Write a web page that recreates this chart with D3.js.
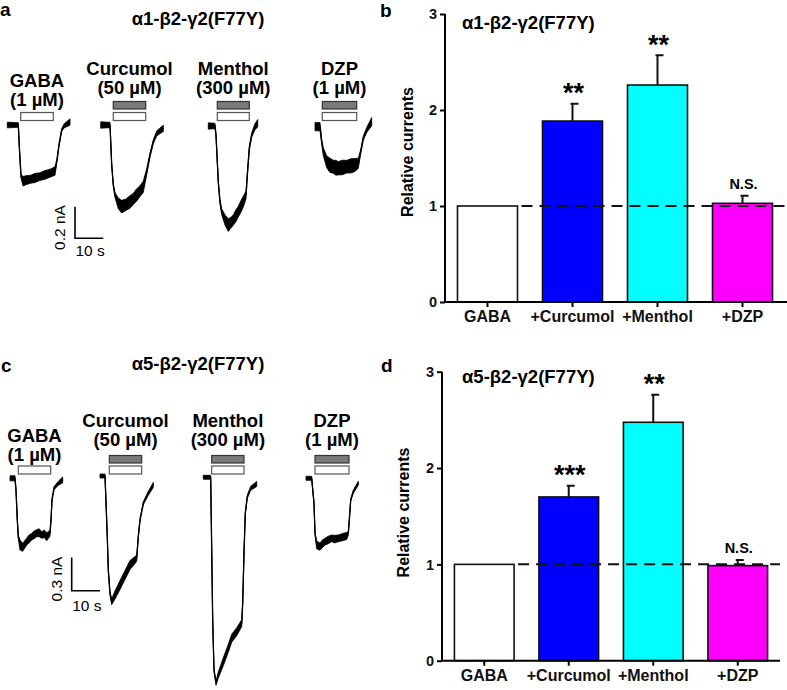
<!DOCTYPE html>
<html><head><meta charset="utf-8">
<script src="https://cdn.jsdelivr.net/npm/d3@7"></script>
<style>body{margin:0;background:#fff}svg{display:block}text{font-family:"Liberation Sans",Arial,sans-serif}</style>
</head><body>
<script>
// ---------- Bar chart data ----------
const CATS = ["GABA", "+Curcumol", "+Menthol", "+DZP"];
const COLORS = ["#ffffff", "#0000ff", "#00ffff", "#ff00ff"];
const B_MEAN = [1, 1.885, 2.26, 1.028];
const B_ERR = [0, 0.181, 0.31, 0.079];
const B_SIG = ["", "**", "**", "N.S."];
const D_MEAN = [1, 1.70, 2.475, 0.987];
const D_ERR = [0, 0.117, 0.285, 0.059];
const D_SIG = ["", "***", "**", "N.S."];
const Y_TICKS = [0, 1, 2, 3];

// ---------- Trace labels ----------
const DRUG_NAMES = ["GABA", "Curcumol", "Menthol", "DZP"];
const DRUG_CONC = ["(1 µM)", "(50 µM)", "(300 µM)", "(1 µM)"];

// ---------- Traces (time s, current nA, noise half-width nA) ----------
const A_GABA_T = [0, 3.89, 4.31, 4.84, 5.55, 6.86, 8.3, 9.79, 11.5, 13.32, 15.1, 16.86, 17.56, 18.27, 19.22, 20.04, 22.16];
const A_GABA_I = [0, 0, -0.158, -0.323, -0.356, -0.348, -0.343, -0.335, -0.327, -0.316, -0.305, -0.291, -0.222, -0.127, -0.032, -0.006, 0.019];
const A_GABA_W = [0.018, 0.015, 0.006, 0.013, 0.03, 0.028, 0.025, 0.029, 0.024, 0.028, 0.025, 0.027, 0.009, 0.009, 0.009, 0.013, 0.02];
const A_CUR_T = [0, 3.29, 3.89, 4.45, 5.05, 6.22, 7.42, 8.9, 10.35, 11.5, 12.72, 13.9, 15.05, 16.25, 17.42, 18.59, 19.79, 22.12];
const A_CUR_I = [0, 0, -0.253, -0.380, -0.443, -0.496, -0.517, -0.505, -0.487, -0.468, -0.443, -0.418, -0.391, -0.296, -0.190, -0.106, -0.053, -0.021];
const A_CUR_W = [0.02, 0.017, 0.006, 0.009, 0.016, 0.034, 0.04, 0.036, 0.04, 0.035, 0.039, 0.034, 0.036, 0.019, 0.013, 0.013, 0.016, 0.02];
const A_MEN_T = [0, 2.37, 2.72, 3.53, 4.13, 4.73, 5.90, 7.07, 8.0, 8.83, 9.7, 10.60, 11.5, 12.37, 13.32, 13.78, 14.49, 15.34, 16.50, 17.46];
const A_MEN_I = [0, 0, -0.057, -0.353, -0.479, -0.542, -0.595, -0.627, -0.612, -0.595, -0.570, -0.542, -0.510, -0.479, -0.437, -0.310, -0.141, -0.057, -0.004, 0.017];
const A_MEN_W = [0.02, 0.017, 0.006, 0.009, 0.013, 0.019, 0.032, 0.04, 0.034, 0.033, 0.038, 0.034, 0.037, 0.034, 0.025, 0.013, 0.013, 0.013, 0.019, 0.024];
const A_DZP_T = [0, 1.77, 2.37, 2.93, 4.13, 5.3, 6.47, 7.4, 8.23, 9.7, 11.20, 12.7, 14.13, 15.30, 16.15, 17.07, 18.27, 20.04];
const A_DZP_I = [0, 0, -0.095, -0.158, -0.222, -0.245, -0.253, -0.26, -0.263, -0.258, -0.253, -0.248, -0.242, -0.232, -0.158, -0.073, -0.021, 0.032];
const A_DZP_W = [0.026, 0.026, 0.013, 0.025, 0.038, 0.045, 0.041, 0.047, 0.042, 0.046, 0.04, 0.045, 0.041, 0.032, 0.013, 0.013, 0.016, 0.026];

const C_GABA_T = [0, 1.77, 2.12, 2.58, 2.93, 3.53, 4.49, 5.90, 6.8, 7.67, 8.5, 9.43, 10.3, 11.20, 12.1, 12.97, 14.13, 14.49, 14.84, 15.55, 17.07, 18.62];
const C_GABA_I = [0, 0, -0.105, -0.376, -0.526, -0.601, -0.622, -0.571, -0.545, -0.526, -0.51, -0.495, -0.49, -0.511, -0.5, -0.526, -0.495, -0.376, -0.195, -0.090, -0.045, -0.015];
const C_GABA_W = [0.023, 0.023, 0.009, 0.009, 0.014, 0.045, 0.036, 0.032, 0.036, 0.03, 0.035, 0.031, 0.036, 0.03, 0.034, 0.036, 0.027, 0.009, 0.009, 0.014, 0.018, 0.027];
const C_CUR_T = [0, 1.77, 2.58, 2.93, 3.53, 4.13, 5.30, 7.07, 8.83, 10.60, 12.37, 12.97, 13.53, 14.13, 15.30, 17.07, 18.83];
const C_CUR_I = [0, 0, -0.547, -0.847, -1.057, -1.132, -1.072, -0.982, -0.892, -0.802, -0.757, -0.741, -0.547, -0.396, -0.246, -0.156, -0.081];
const C_CUR_W = [0.018, 0.018, 0.007, 0.007, 0.014, 0.027, 0.036, 0.041, 0.041, 0.041, 0.032, 0.027, 0.009, 0.011, 0.014, 0.018, 0.023];
const C_MEN_T = [0, 2.61, 3.32, 3.78, 4.49, 5.30, 7.07, 8.83, 10.04, 11.80, 13.57, 13.92, 14.38, 14.84, 15.55, 16.75, 18.87];
const C_MEN_I = [0, 0, -1.286, -1.736, -1.856, -1.781, -1.661, -1.541, -1.450, -1.391, -1.315, -1.135, -0.685, -0.324, -0.175, -0.099, -0.060];
const C_MEN_W = [0.018, 0.018, 0.006, 0.007, 0.018, 0.027, 0.036, 0.036, 0.036, 0.036, 0.032, 0.009, 0.007, 0.009, 0.014, 0.018, 0.023];
const C_DZP_T = [0, 2.01, 2.83, 3.18, 3.78, 4.95, 5.8, 6.71, 7.9, 9.08, 10.2, 11.41, 12.9, 14.38, 14.95, 15.30, 15.80, 16.71, 18.48];
const C_DZP_I = [0, 0, -0.225, -0.495, -0.601, -0.616, -0.59, -0.571, -0.555, -0.541, -0.548, -0.541, -0.53, -0.520, -0.495, -0.376, -0.195, -0.121, -0.045];
const C_DZP_W = [0.018, 0.018, 0.007, 0.009, 0.036, 0.032, 0.035, 0.03, 0.034, 0.03, 0.034, 0.03, 0.033, 0.032, 0.018, 0.009, 0.009, 0.014, 0.018];

// application periods (s from trace start)
const A_APP = [[4.73, 16.25], [4.45, 15.9], [3.18, 14.49], [2.58, 14.73]];
const C_APP = [[2.93, 14.38], [3.29, 14.73], [2.97, 14.38], [3.18, 15.19]];

// ---------- layout ----------
const W = 787, H = 690;
const FONT = '"Liberation Sans",Arial,sans-serif';
const svg = d3.select("body").append("svg").attr("width", W).attr("height", H);

function zipTrace(T, I, Wd) { return T.map((t, k) => ({t: t, i: I[k], w: Wd[k]})); }

function tracePanel(cfg) {
  const g = svg.append("g");
  const x = d3.scaleLinear().domain([0, 10]).range([0, 28.3]);
  const y = d3.scaleLinear().domain([0, -cfg.scaleNA]).range([0, cfg.scalePx]);
  const area = d3.area().x(d => x(d.t)).y0(d => y(d.i - d.w)).y1(d => y(d.i + d.w));
  const line = d3.line().x(d => x(d.t)).y(d => y(d.i));
  g.append("text").attr("x", cfg.titleX).attr("y", cfg.titleY).attr("text-anchor", "middle")
    .attr("font-size", 18.5).attr("font-weight", "bold").text(cfg.title);
  g.append("text").attr("x", cfg.letterX).attr("y", cfg.letterY).attr("font-size", 19)
    .attr("font-weight", "bold").text(cfg.letter);
  cfg.traces.forEach((tr, k) => {
    const [ox, oy] = cfg.origins[k];
    const tg = g.append("g").attr("transform", `translate(${ox},${oy})`);
    const data = zipTrace(tr[0], tr[1], tr[2]);
    tg.append("path").datum(data).attr("d", area).attr("fill", "#000").attr("stroke", "#000").attr("stroke-width", 0.8);
    tg.append("path").datum(data).attr("d", line).attr("fill", "none").attr("stroke", "#000").attr("stroke-width", 1.3);
    const app = cfg.app[k];
    const bx = ox + x(app[0]), bw = x(app[1]) - x(app[0]);
    svg.append("rect").attr("x", bx).attr("y", cfg.whiteY).attr("width", bw).attr("height", 8)
      .attr("fill", "#fff").attr("stroke", "#555").attr("stroke-width", 1.2);
    if (k > 0) {
      svg.append("rect").attr("x", bx).attr("y", cfg.greyY).attr("width", bw).attr("height", 7.5)
        .attr("fill", "#7a7a7a").attr("stroke", "#333").attr("stroke-width", 1.2);
    }
    const cx = bx + bw / 2;
    const ly = k === 0 ? cfg.labY0 : cfg.labY;
    svg.append("text").attr("x", cx).attr("y", ly).attr("text-anchor", "middle").attr("font-size", 18.5)
      .attr("font-weight", "bold").text(DRUG_NAMES[k]);
    svg.append("text").attr("x", cx).attr("y", ly + 19).attr("text-anchor", "middle").attr("font-size", 18.5)
      .attr("font-weight", "bold").text(DRUG_CONC[k]);
  });
  // scale bar
  const [sx, sy] = cfg.sbar;
  const h = y(-cfg.scaleNA);
  const sg = svg.append("g").attr("transform", `translate(${sx},${sy})`);
  sg.append("path").attr("d", `M0,${-h}V0H${x(10)}`).attr("fill", "none").attr("stroke", "#000").attr("stroke-width", 1.6);
  sg.append("text").attr("transform", `translate(-10,${-h / 2 + 5}) rotate(-90)`).attr("text-anchor", "middle")
    .attr("font-size", 15.5).text(cfg.scaleNA + " nA");
  sg.append("text").attr("x", x(5) + 1).attr("y", cfg.sTextDy).attr("text-anchor", "middle").attr("font-size", 15.5).text("10 s");
}

tracePanel({
  title: "α1-β2-γ2(F77Y)", titleX: 198, titleY: 25, letter: "a", letterX: 0, letterY: 16,
  traces: [[A_GABA_T, A_GABA_I, A_GABA_W], [A_CUR_T, A_CUR_I, A_CUR_W], [A_MEN_T, A_MEN_I, A_MEN_W], [A_DZP_T, A_DZP_I, A_DZP_W]],
  origins: [[7.3, 125], [100.7, 125], [208.3, 126], [315, 126.7]],
  app: A_APP, whiteY: 112.5, greyY: 101.5, labY0: 87.3, labY: 75,
  scaleNA: 0.2, scalePx: 31.6, sbar: [75, 238.3], sTextDy: 17.5
});
tracePanel({
  title: "α5-β2-γ2(F77Y)", titleX: 198, titleY: 370, letter: "c", letterX: 1, letterY: 371.5,
  traces: [[C_GABA_T, C_GABA_I, C_GABA_W], [C_CUR_T, C_CUR_I, C_CUR_W], [C_MEN_T, C_MEN_I, C_MEN_W], [C_DZP_T, C_DZP_I, C_DZP_W]],
  origins: [[10, 478.3], [100, 476], [203.3, 477.3], [306, 478.3]],
  app: C_APP, whiteY: 466, greyY: 455.5, labY0: 441.7, labY: 427.3,
  scaleNA: 0.3, scalePx: 33.3, sbar: [71.7, 590.7], sTextDy: 20
});

// ---------- bar panels ----------
function barPanel(cfg) {
  const g = svg.append("g");
  const x = d3.scaleBand().domain(CATS).range(cfg.xr).paddingInner(0.294).paddingOuter(0.147);
  const y = d3.scaleLinear().domain([0, 3]).range(cfg.yr);
  const ax = g.append("g").attr("transform", `translate(${cfg.xr[0]},0)`)
    .call(d3.axisLeft(y).tickValues(Y_TICKS).tickFormat(d3.format("d")).tickSize(5).tickPadding(3));
  ax.select(".domain").attr("stroke-width", 2).attr("d", `M-0,${cfg.yr[1]}V${cfg.yr[0]}`);
  ax.selectAll(".tick line").attr("stroke-width", 2);
  ax.selectAll("text").attr("font-size", 14.5).attr("font-weight", "bold").attr("font-family", FONT).attr("fill", "#111");
  // bars
  g.selectAll("rect.bar").data(CATS).enter().append("rect")
    .attr("x", d => x(d)).attr("width", x.bandwidth())
    .attr("y", (d, k) => y(cfg.mean[k])).attr("height", (d, k) => y(0) - y(cfg.mean[k]))
    .attr("fill", (d, k) => COLORS[k]).attr("stroke", "#111").attr("stroke-width", 1.6);
  // error bars
  CATS.forEach((c, k) => {
    if (!cfg.err[k]) return;
    const cx = x(c) + x.bandwidth() / 2;
    const yt = y(cfg.mean[k] + cfg.err[k]);
    g.append("path").attr("d", `M${cx},${y(cfg.mean[k])}V${yt}M${cx - 2},${yt}H${cx + 6}`)
      .attr("stroke", "#111").attr("stroke-width", 2).attr("fill", "none");
    const isNS = cfg.sig[k] === "N.S.";
    g.append("text").attr("x", cx + 1).attr("y", isNS ? yt - 6.5 : yt - 1.5)
      .attr("text-anchor", "middle").attr("font-weight", "bold")
      .attr("font-size", isNS ? 14.5 : 27).text(cfg.sig[k]);
  });
  // dashed line
  g.append("line").attr("x1", x(CATS[0]) + x.bandwidth()).attr("x2", cfg.xEnd)
    .attr("y1", y(1)).attr("y2", y(1)).attr("stroke", "#111").attr("stroke-width", 2).attr("stroke-dasharray", "11,7")
    .attr("stroke-dashoffset", -4);
  // x axis
  const xa = g.append("g").attr("transform", `translate(0,${cfg.yr[0]})`)
    .call(d3.axisBottom(x).tickSize(5).tickPadding(4));
  xa.select(".domain").attr("d", `M${cfg.xr[0]},0H${cfg.xEnd}`).attr("stroke-width", 2);
  xa.selectAll(".tick line").attr("stroke-width", 2);
  xa.selectAll("text").attr("font-size", 16).attr("font-weight", "bold").attr("font-family", FONT).attr("fill", "#111");
  g.append("text").attr("transform", `translate(${cfg.ylabX},${cfg.ylabY}) rotate(-90)`).attr("text-anchor", "middle")
    .attr("font-size", 16).attr("font-weight", "bold").text("Relative currents");
  g.append("text").attr("x", cfg.titleX).attr("y", cfg.titleY).attr("font-size", 18.5).attr("font-weight", "bold").text(cfg.title);
  g.append("text").attr("x", cfg.letterX).attr("y", cfg.letterY).attr("font-size", 19).attr("font-weight", "bold").text(cfg.letter);
}

barPanel({
  mean: B_MEAN, err: B_ERR, sig: B_SIG, xr: [445, 785], xEnd: 787, yr: [302, 14],
  ylabX: 413, ylabY: 152, title: "α1-β2-γ2(F77Y)", titleX: 462, titleY: 28.5, letter: "b", letterX: 380, letterY: 17
});
barPanel({
  mean: D_MEAN, err: D_ERR, sig: D_SIG, xr: [442, 780], xEnd: 780, yr: [660.7, 371.7],
  ylabX: 409, ylabY: 512.5, title: "α5-β2-γ2(F77Y)", titleX: 462, titleY: 383, letter: "d", letterX: 381, letterY: 372
});
</script>
</body></html>
